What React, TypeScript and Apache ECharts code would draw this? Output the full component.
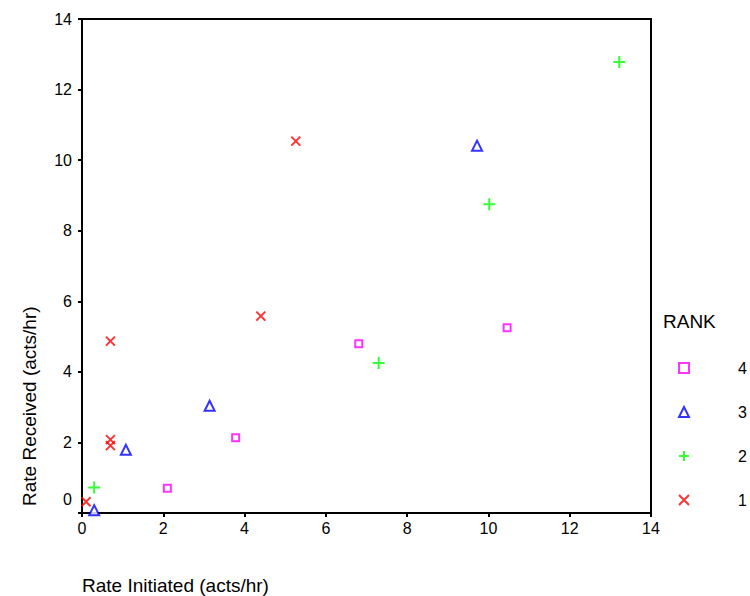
import React, { useEffect, useRef } from "react";
import * as echarts from "echarts";

const rank1: number[][] = [[0.1, 0.32], [0.7, 4.87], [0.7, 2.08], [0.7, 1.91], [4.4, 5.58], [5.26, 10.54]];
const rank2: number[][] = [[0.3, 0.72], [7.3, 4.25], [10.02, 8.75], [13.22, 12.78]];
const rank3: number[][] = [[0.3, 0.08], [1.08, 1.79], [3.14, 3.04], [9.72, 10.41]];
const rank4: number[][] = [[2.1, 0.7], [3.78, 2.13], [6.81, 4.8], [10.46, 5.25]];
const legendOrder = ["4", "3", "2", "1"];
const xTitle = "Rate Initiated (acts/hr)";
const yTitle = "Rate Received (acts/hr)";
const legendTitle = "RANK";

const FONT = "Liberation Sans, Arial, sans-serif";
const PLUS = "path://M0,5L10,5M5,0L5,10";
const CROSS = "path://M0,0L10,10M10,0L0,10";

export default function App() {
  const ref = useRef<HTMLDivElement>(null);
  useEffect(() => {
    if (!ref.current) return;
    const chart = echarts.init(ref.current, undefined, { renderer: "svg" });
    const axisCommon = {
      min: 0,
      max: 14,
      interval: 2,
      axisLine: { show: true, onZero: false, lineStyle: { color: "#000", width: 2 } },
      axisTick: { show: true, inside: false, length: 4, lineStyle: { color: "#000", width: 2 } },
      splitLine: { show: false },
    };
    chart.setOption({
      animation: false,
      textStyle: { fontFamily: FONT },
      graphic: [
        {
          type: "text", left: 663, top: 312,
          style: { text: legendTitle, fontFamily: FONT, fontSize: 19, fill: "#000" },
        },
        {
          type: "text", x: 82, y: 585,
          style: { text: xTitle, fontFamily: FONT, fontSize: 19, fill: "#000", textAlign: "left", textVerticalAlign: "middle" },
        },
        {
          type: "text", x: 29, y: 506, rotation: Math.PI / 2,
          style: { text: yTitle, fontFamily: FONT, fontSize: 19, fill: "#000", textAlign: "left", textVerticalAlign: "middle" },
        },
      ],
      grid: { left: 82, right: 99, top: 19, bottom: 83, show: true, borderColor: "#000", borderWidth: 2, backgroundColor: "transparent" },
      xAxis: {
        type: "value",
        ...axisCommon,
        axisLabel: { color: "#000", fontSize: 16, fontFamily: FONT, margin: 7 },
      },
      yAxis: {
        type: "value",
        ...axisCommon,
        axisLabel: {
          color: "#000",
          fontSize: 16,
          fontFamily: FONT,
          margin: 10,
          formatter: (v: number) => (v === 0 ? "{z|0}" : String(v)),
          rich: { z: { fontSize: 16, fontFamily: FONT, color: "#000", padding: [0, 0, 28, 0] } },
        },
      },
      legend: {
        orient: "vertical",
        left: 673,
        top: 355,
        itemGap: 28,
        itemWidth: 10,
        itemHeight: 10,
        data: legendOrder,
        textStyle: { fontFamily: FONT, fontSize: 16, color: "#000", padding: [0, 0, 0, 44] },
      },
      series: [
        {
          name: "1", type: "scatter", data: rank1, symbol: CROSS, symbolSize: 9,
          itemStyle: { color: "#ff0000", borderColor: "#ff0000", borderWidth: 2 },
        },
        {
          name: "2", type: "scatter", data: rank2, symbol: PLUS, symbolSize: 12,
          itemStyle: { color: "#00ff00", borderColor: "#00ff00", borderWidth: 2 },
        },
        {
          name: "3", type: "scatter", data: rank3, symbol: "triangle", symbolSize: 10,
          itemStyle: { color: "#fff", borderColor: "#0000ff", borderWidth: 2 },
        },
        {
          name: "4", type: "scatter", data: rank4, symbol: "rect", symbolSize: 7,
          itemStyle: { color: "#fff", borderColor: "#ff00ff", borderWidth: 2 },
        },
      ],
    });
    return () => chart.dispose();
  }, []);
  return <div ref={ref} style={{ width: 750, height: 596, position: "absolute", left: 0, top: 0 }} />;
}
